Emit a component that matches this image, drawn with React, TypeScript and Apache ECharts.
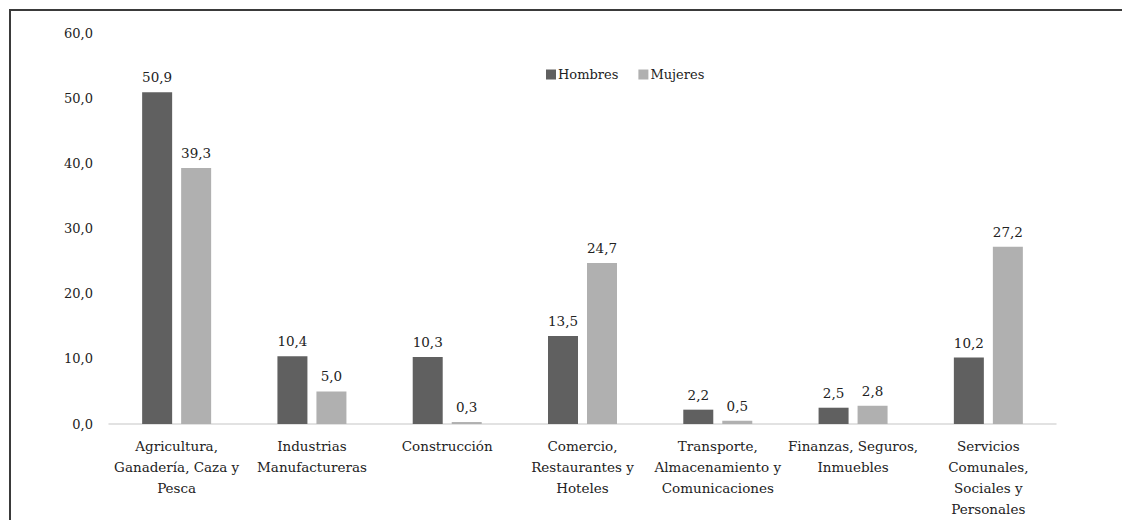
import React, { useEffect, useRef } from "react";
import * as echarts from "echarts";

const categories = [
  "Agricultura,\nGanadería, Caza y\nPesca",
  "Industrias\nManufactureras",
  "Construcción",
  "Comercio,\nRestaurantes y\nHoteles",
  "Transporte,\nAlmacenamiento y\nComunicaciones",
  "Finanzas, Seguros,\nInmuebles",
  "Servicios\nComunales,\nSociales y\nPersonales",
];
const hombres = [50.9, 10.4, 10.3, 13.5, 2.2, 2.5, 10.2];
const mujeres = [39.3, 5.0, 0.3, 24.7, 0.5, 2.8, 27.2];
const seriesNames = ["Hombres", "Mujeres"];

const FONT = "DejaVu Serif";
const fmt = (v: number) => v.toFixed(1).replace(".", ",");

export default function App() {
  const ref = useRef<HTMLDivElement>(null);
  useEffect(() => {
    if (!ref.current) return;
    const chart = echarts.init(ref.current, undefined, { renderer: "svg" });
    const labelStyle = {
      show: true,
      position: "top",
      distance: 8,
      fontFamily: FONT,
      fontSize: 13.5,
      color: "#222",
      formatter: (p: any) => fmt(p.value),
    };
    chart.setOption({
      animation: false,
      textStyle: { fontFamily: FONT },
      legend: {
        data: seriesNames,
        left: 541,
        top: 63,
        itemWidth: 10,
        itemHeight: 10,
        itemGap: 20,
        icon: "rect",
        textStyle: { fontFamily: FONT, fontSize: 13, color: "#222", padding: [0, 0, 0, -3] },
      },
      grid: { left: 109, right: 66, top: 33, bottom: 96, containLabel: false },
      xAxis: {
        type: "category",
        data: categories,
        axisLine: { lineStyle: { color: "#d9d9d9", width: 1.5 } },
        axisTick: { show: false },
        axisLabel: {
          interval: 0,
          margin: 11,
          fontFamily: FONT,
          fontSize: 13.5,
          lineHeight: 21,
          color: "#222",
          align: "center",
        },
      },
      yAxis: {
        type: "value",
        min: 0,
        max: 60,
        interval: 10,
        splitLine: { show: false },
        axisLine: { show: false },
        axisTick: { show: false },
        axisLabel: {
          margin: 16,
          fontFamily: FONT,
          fontSize: 13,
          color: "#222",
          formatter: (v: number) => fmt(v),
        },
      },
      series: [
        {
          name: seriesNames[0],
          type: "bar",
          data: hombres,
          barWidth: 30,
          barGap: "30%",
          itemStyle: { color: "#606060" },
          label: labelStyle,
        },
        {
          name: seriesNames[1],
          type: "bar",
          data: mujeres,
          barWidth: 30,
          barGap: "30%",
          itemStyle: { color: "#b0b0b0" },
          label: labelStyle,
        },
      ],
    });
    return () => chart.dispose();
  }, []);
  return (
    <div style={{ position: "fixed", left: 0, top: 0, width: 1122, height: 520, background: "#fff", overflow: "hidden" }}>
      <div
        style={{
          position: "absolute",
          left: 9,
          top: 9,
          width: 1300,
          height: 700,
          borderLeft: "2px solid #3a3a3a",
          borderTop: "2px solid #3a3a3a",
        }}
      />
      <div ref={ref} style={{ position: "absolute", left: 0, top: 0, width: 1122, height: 520 }} />
    </div>
  );
}
